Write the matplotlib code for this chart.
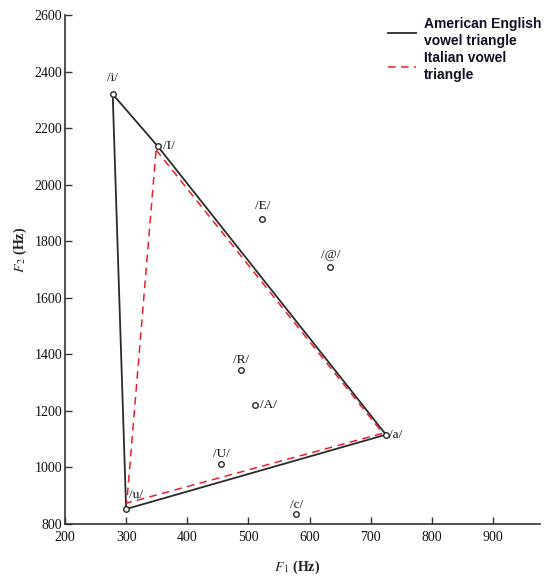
import matplotlib
matplotlib.use("Agg")
import matplotlib.pyplot as plt
from matplotlib.lines import Line2D

# ---- data ----
vowels = ['/i/', '/I/', '/E/', '/@/', '/a/', '/c/', '/U/', '/u/', '/R/', '/A/']
f1 = [278, 352, 523, 634, 725, 578, 455, 300, 488, 510]
f2 = [2320, 2135, 1878, 1710, 1116, 835, 1012, 853, 1343, 1222]

english_f1 = [278, 352, 725, 300, 278]
english_f2 = [2320, 2135, 1116, 853, 2320]
italian_f1 = [349, 720, 301, 349]
italian_f2 = [2123, 1121, 874, 2123]

xticks = [200, 300, 400, 500, 600, 700, 800, 900]
yticks = [800, 1000, 1200, 1400, 1600, 1800, 2000, 2200, 2400, 2600]

# label offsets (points) and alignment
label_pos = {
    '/i/': (0, 7, 'center', 'bottom'),
    '/I/': (4, 0, 'left', 'center'),
    '/E/': (0, 5, 'center', 'bottom'),
    '/@/': (0, 4, 'center', 'bottom'),
    '/a/': (2, 0, 'left', 'center'),
    '/c/': (0, 2, 'center', 'bottom'),
    '/U/': (0, 3, 'center', 'bottom'),
    '/u/': (2, 6, 'left', 'bottom'),
    '/R/': (0, 3, 'center', 'bottom'),
    '/A/': (4, 0, 'left', 'center'),
}

plt.rcParams['mathtext.fontset'] = 'stix'
serif = 'Liberation Serif'

fig = plt.figure(figsize=(5.5, 5.83), dpi=100)
ax = fig.add_axes([65/550, 59/583, 475/550, 509/583])
ax.set_xlim(200, 977)
ax.set_ylim(800, 2600)

ax.plot(english_f1, english_f2, color='#2a2a2a', lw=1.3, zorder=2)
ax.plot(italian_f1, italian_f2, color='#e8202a', lw=1.1, ls=(0, (5, 3.5)), zorder=3)
ax.plot(f1, f2, ls='none', marker='o', ms=4, mfc='white', mec='#2a2a2a', mew=1.0, zorder=4)

for v, x, y in zip(vowels, f1, f2):
    dx, dy, ha, va = label_pos[v]
    ax.annotate(v, (x, y), xytext=(dx, dy), textcoords='offset points',
                ha=ha, va=va, fontsize=9.5, family=serif, color='#111111')

for s in ['top', 'right']:
    ax.spines[s].set_visible(False)
for s in ['left', 'bottom']:
    ax.spines[s].set_color('#333333')
    ax.spines[s].set_linewidth(1.2)

ax.set_xticks(xticks)
ax.set_yticks(yticks)
ax.tick_params(direction='in', length=5, width=1, color='#333333',
               labelsize=10, labelcolor='#111111')
ax.tick_params(axis='x', pad=5)
ax.tick_params(axis='y', pad=2)
for lab in ax.get_xticklabels() + ax.get_yticklabels():
    lab.set_family(serif)

fig.text(20/550, 1 - 250/583, r'$F_{\,2}$ (Hz)', rotation=90, ha='center', va='center',
         fontsize=10, family=serif, color='#222222', weight='bold')
fig.text(297/550, 1 - 567/583, r'$F_{\,1}$ (Hz)', ha='center', va='center',
         fontsize=10, family=serif, color='#222222', weight='bold')

handles = [Line2D([], [], color='#2a2a2a', lw=1.3),
           Line2D([], [], color='#e8202a', lw=1.1, ls=(0, (5, 3.5)))]
leg = fig.legend(handles, ['American English\nvowel triangle', 'Italian vowel\ntriangle'],
                 loc='upper left', bbox_to_anchor=(388/550, 1 - 17/583), frameon=False,
                 handlelength=2.0, handletextpad=0.6, labelspacing=0.25,
                 borderaxespad=0, borderpad=0,
                 prop={'family': 'Liberation Sans', 'weight': 'bold', 'size': 10})
for t in leg.get_texts():
    t.set_linespacing(1.25)
    t.set_color('#111122')

fig.savefig('out.png', dpi=100)
